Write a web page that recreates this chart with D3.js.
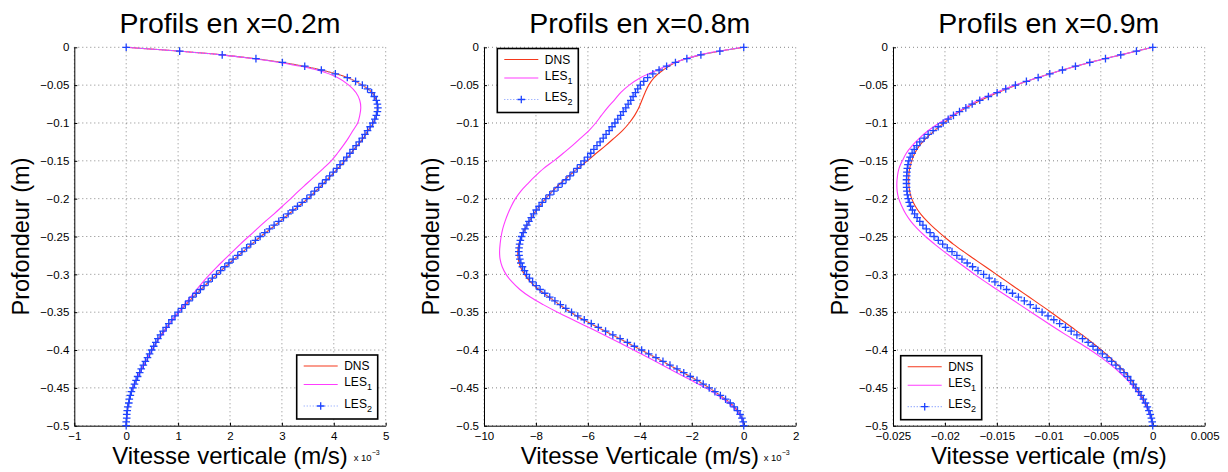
<!DOCTYPE html>
<html>
<head>
<meta charset="utf-8">
<script src="https://cdn.jsdelivr.net/npm/d3@7"></script>
<style>
  body { margin: 0; background: #fff; }
  svg { display: block; }
  text { font-family: "Liberation Sans", Arial, Helvetica, sans-serif; fill: #000; }
</style>
</head>
<body>
<svg id="chart" width="1228" height="472"></svg>
<script>
// Depth sampling: lines every 1 cm, LES2 markers every 5 mm (0 to -0.5 m)
const depthLine = d3.range(0, 51).map(i => -i / 100);
const depthMarker = d3.range(0, 101).map(i => -i / 200);

// Vertical velocity profiles, x = 0.2 m (units of 1e-3 m/s)
const dns02 = [0,1.85,3.01,3.76,4.26,4.55,4.74,4.82,4.84,4.82,4.76,4.66,4.57,4.45,4.33,4.21,4.08,3.94,3.80,3.65,3.50,3.32,3.14,2.96,2.78,2.59,2.42,2.25,2.08,1.91,1.75,1.59,1.44,1.29,1.15,1.01,0.89,0.78,0.67,0.58,0.50,0.42,0.34,0.26,0.19,0.13,0.08,0.05,0.02,0.01,0];
const les1_02 = [0,1.83,2.95,3.68,4.07,4.29,4.43,4.50,4.52,4.50,4.46,4.37,4.28,4.18,4.07,3.95,3.80,3.64,3.48,3.32,3.17,3.01,2.85,2.68,2.52,2.36,2.20,2.05,1.90,1.75,1.61,1.48,1.36,1.24,1.12,1.01,0.89,0.79,0.69,0.58,0.50,0.42,0.34,0.26,0.19,0.13,0.08,0.05,0.02,0.01,0];
const les2_02 = [0,1.03,1.85,2.50,3.01,3.44,3.76,4.03,4.26,4.42,
  4.55,4.65,4.73,4.78,4.82,4.84,4.85,4.84,4.82,4.79,
  4.75,4.70,4.65,4.60,4.55,4.49,4.43,4.37,4.31,4.25,
  4.19,4.12,4.06,3.99,3.92,3.85,3.78,3.71,3.63,3.56,
  3.48,3.39,3.30,3.21,3.12,3.03,2.94,2.85,2.76,2.67,
  2.58,2.49,2.40,2.32,2.23,2.15,2.06,1.98,1.90,1.82,
  1.74,1.66,1.58,1.50,1.43,1.35,1.28,1.21,1.14,1.07,
  1.00,0.94,0.88,0.82,0.77,0.71,0.66,0.61,0.57,0.53,
  0.49,0.45,0.41,0.37,0.33,0.29,0.26,0.22,0.19,0.16,
  0.13,0.10,0.08,0.06,0.05,0.03,0.02,0.01,0.01,0.00,0];

// x = 0.8 m (units of 1e-3 m/s)
const dns08 = [0,-1.65,-2.63,-3.10,-3.45,-3.66,-3.80,-3.92,-4.04,-4.20,-4.41,-4.67,-4.99,-5.32,-5.68,-6.02,-6.39,-6.73,-7.06,-7.36,-7.63,-7.87,-8.08,-8.26,-8.42,-8.56,-8.66,-8.70,-8.68,-8.60,-8.44,-8.21,-7.89,-7.50,-7.10,-6.67,-6.17,-5.62,-5.06,-4.50,-3.95,-3.40,-2.85,-2.32,-1.80,-1.33,-0.90,-0.52,-0.24,-0.07,0];
const les1_08 = [0,-1.70,-2.65,-3.32,-3.96,-4.41,-4.74,-4.99,-5.25,-5.48,-5.70,-5.96,-6.28,-6.60,-6.95,-7.31,-7.70,-8.02,-8.31,-8.58,-8.79,-8.95,-9.08,-9.19,-9.28,-9.34,-9.38,-9.40,-9.38,-9.30,-9.15,-8.92,-8.62,-8.22,-7.72,-7.17,-6.58,-5.98,-5.38,-4.80,-4.24,-3.68,-3.12,-2.58,-2.02,-1.47,-0.99,-0.58,-0.28,-0.08,0];
const les2_08 = [0,-0.92,-1.65,-2.19,-2.63,-2.97,-3.26,-3.50,-3.70,-3.85,
  -3.98,-4.08,-4.17,-4.26,-4.35,-4.45,-4.54,-4.64,-4.74,-4.85,
  -4.96,-5.07,-5.18,-5.30,-5.41,-5.53,-5.65,-5.77,-5.89,-6.01,
  -6.14,-6.27,-6.41,-6.55,-6.69,-6.84,-6.99,-7.15,-7.31,-7.47,
  -7.62,-7.76,-7.88,-7.99,-8.09,-8.18,-8.27,-8.35,-8.42,-8.49,
  -8.55,-8.60,-8.63,-8.65,-8.66,-8.65,-8.62,-8.58,-8.52,-8.44,
  -8.36,-8.25,-8.13,-7.99,-7.84,-7.66,-7.47,-7.27,-7.06,-6.85,
  -6.63,-6.39,-6.14,-5.87,-5.60,-5.32,-5.04,-4.76,-4.48,-4.21,
  -3.93,-3.66,-3.38,-3.11,-2.84,-2.57,-2.31,-2.06,-1.80,-1.56,
  -1.33,-1.11,-0.90,-0.70,-0.52,-0.37,-0.24,-0.14,-0.07,-0.02,0];

// x = 0.9 m (units of 1e-3 m/s)
const dns09 = [0,-3.08,-6.06,-8.69,-11.03,-13.15,-14.95,-16.55,-17.95,-19.15,-20.10,-21.00,-21.80,-22.45,-22.90,-23.20,-23.40,-23.48,-23.48,-23.40,-23.20,-22.85,-22.35,-21.70,-20.95,-20.10,-19.20,-18.20,-17.15,-16.10,-15.05,-14.00,-12.95,-11.90,-10.85,-9.80,-8.80,-7.80,-6.80,-5.85,-4.95,-4.10,-3.35,-2.65,-2.05,-1.55,-1.10,-0.70,-0.38,-0.12,0];
const les1_09 = [0,-3.08,-6.06,-8.69,-11.03,-13.25,-15.10,-16.80,-18.10,-19.30,-20.55,-21.60,-22.45,-23.15,-23.72,-24.10,-24.42,-24.57,-24.63,-24.60,-24.45,-24.15,-23.78,-23.28,-22.64,-21.87,-21.00,-20.08,-19.12,-18.14,-17.14,-16.10,-15.00,-13.90,-12.80,-11.70,-10.60,-9.50,-8.35,-7.15,-6.00,-4.95,-4.00,-3.15,-2.40,-1.78,-1.25,-0.80,-0.45,-0.17,0];
const les2_09 = [0,-1.57,-3.08,-4.55,-6.06,-7.44,-8.69,-9.91,-11.03,-12.16,
  -13.22,-14.15,-14.98,-15.82,-16.65,-17.38,-17.99,-18.60,-19.18,-19.69,
  -20.17,-20.65,-21.14,-21.62,-22.00,-22.42,-22.71,-22.96,-23.16,-23.35,
  -23.48,-23.56,-23.62,-23.66,-23.68,-23.70,-23.70,-23.69,-23.66,-23.61,
  -23.54,-23.44,-23.31,-23.13,-22.92,-22.68,-22.42,-22.12,-21.79,-21.43,
  -21.05,-20.64,-20.22,-19.78,-19.32,-18.85,-18.36,-17.86,-17.34,-16.82,
  -16.28,-15.74,-15.19,-14.63,-14.07,-13.50,-12.93,-12.36,-11.79,-11.22,
  -10.65,-10.08,-9.52,-8.96,-8.40,-7.85,-7.30,-6.76,-6.22,-5.75,
  -5.30,-4.85,-4.40,-3.96,-3.55,-3.15,-2.77,-2.42,-2.12,-1.86,
  -1.62,-1.35,-1.12,-0.90,-0.70,-0.52,-0.37,-0.24,-0.13,-0.05,0];

// Axis ticks and labels
const yTicks = [0,-0.05,-0.1,-0.15,-0.2,-0.25,-0.3,-0.35,-0.4,-0.45,-0.5];
const yTickLabels = ["0","\u22120.05","\u22120.1","\u22120.15","\u22120.2","\u22120.25","\u22120.3","\u22120.35","\u22120.4","\u22120.45","\u22120.5"];
const xTicks02 = [-1,0,1,2,3,4,5];
const xTickLabels02 = ["\u22121","0","1","2","3","4","5"];
const xTicks08 = [-10,-8,-6,-4,-2,0,2];
const xTickLabels08 = ["\u221210","\u22128","\u22126","\u22124","\u22122","0","2"];
const xTicks09 = [-0.025,-0.02,-0.015,-0.01,-0.005,0,0.005];
const xTickLabels09 = ["\u22120.025","\u22120.02","\u22120.015","\u22120.01","\u22120.005","0","0.005"];

const seriesNames = ["DNS", "LES", "LES"];
const seriesSubs = ["", "1", "2"];

const COL_DNS = "#f5381c";
const COL_LES1 = "#ff3cff";
const COL_LES2 = "#1e44ff";
const COL_LES2_LINE = "#7d98ff";

const TOP = 47.3, BOTTOM = 425.7;
const svg = d3.select("#chart");

const milli = v => v / 1000;

const panels = [
  { left: 74.3, right: 385.7, xDomain: [-1, 5], xTicks: xTicks02, xLabels: xTickLabels02,
    dns: dns02, les1: les1_02, les2: les2_02, scale: v => v,
    title: "Profils en x=0.2m", xTitle: "Vitesse verticale (m/s)", exponent: true,
    legend: { x: 296.7, y: 355 } },
  { left: 484, right: 795.7, xDomain: [-10, 2], xTicks: xTicks08, xLabels: xTickLabels08,
    dns: dns08, les1: les1_08, les2: les2_08, scale: v => v,
    title: "Profils en x=0.8m", xTitle: "Vitesse Verticale (m/s)", exponent: true,
    legend: { x: 497.3, y: 48.5 } },
  { left: 893, right: 1204.7, xDomain: [-0.025, 0.005], xTicks: xTicks09, xLabels: xTickLabels09,
    dns: dns09, les1: les1_09, les2: les2_09, scale: milli,
    title: "Profils en x=0.9m", xTitle: "Vitesse verticale (m/s)", exponent: false,
    legend: { x: 900.7, y: 355.7 } }
];

function drawPanel(p) {
  const g = svg.append("g");
  const x = d3.scaleLinear().domain(p.xDomain).range([p.left, p.right]);
  const y = d3.scaleLinear().domain([-0.5, 0]).range([BOTTOM, TOP]);

  // dotted grid
  const grid = g.append("g").attr("stroke", "#000").attr("stroke-width", 0.8)
    .attr("stroke-dasharray", "1,3").attr("stroke-opacity", 0.6);
  grid.selectAll("line.v").data(p.xTicks).join("line").attr("class", "v")
    .attr("x1", d => x(d)).attr("x2", d => x(d)).attr("y1", TOP).attr("y2", BOTTOM);
  grid.selectAll("line.h").data(yTicks).join("line").attr("class", "h")
    .attr("x1", p.left).attr("x2", p.right).attr("y1", d => y(d)).attr("y2", d => y(d));

  // axes
  const xAxis = d3.axisBottom(x).tickValues(p.xTicks).tickFormat((d, i) => p.xLabels[i])
    .tickSizeInner(-3).tickSizeOuter(0).tickPadding(6.5);
  const yAxis = d3.axisLeft(y).tickValues(yTicks).tickFormat((d, i) => yTickLabels[i])
    .tickSizeInner(-3).tickSizeOuter(0).tickPadding(5);
  const gx = g.append("g").attr("transform", `translate(0,${BOTTOM})`).call(xAxis);
  const gy = g.append("g").attr("transform", `translate(${p.left},0)`).call(yAxis);
  [gx, gy].forEach(a => {
    a.attr("font-family", null).attr("font-size", null);
    a.selectAll("text").style("font-size", "11.5px");
    a.selectAll("path, line").attr("stroke", "#000").attr("stroke-width", 1);
  });

  const line = d3.line().x(d => x(d[0])).y(d => y(d[1])).curve(d3.curveCatmullRom);

  const dnsPts = p.dns.map((v, i) => [p.scale(v), depthLine[i]]);
  const les1Pts = p.les1.map((v, i) => [p.scale(v), depthLine[i]]);
  const les2Pts = p.les2.map((v, i) => [p.scale(v), depthMarker[i]]);

  g.append("path").attr("d", line(dnsPts)).attr("fill", "none")
    .attr("stroke", COL_DNS).attr("stroke-width", 1.1);
  g.append("path").attr("d", line(les1Pts)).attr("fill", "none")
    .attr("stroke", COL_LES1).attr("stroke-width", 1.1);
  g.append("path").attr("d", d3.line().x(d => x(d[0])).y(d => y(d[1]))(les2Pts)).attr("fill", "none")
    .attr("stroke", COL_LES2_LINE).attr("stroke-width", 1.2).attr("stroke-dasharray", "1,2");
  const s = 3.8;
  g.append("g").selectAll("path").data(les2Pts).join("path")
    .attr("d", d => `M${x(d[0]) - s},${y(d[1])}H${x(d[0]) + s}M${x(d[0])},${y(d[1]) - s}V${y(d[1]) + s}`)
    .attr("stroke", COL_LES2).attr("stroke-width", 1.3).attr("fill", "none");

  // titles
  const cx = (p.left + p.right) / 2;
  g.append("text").attr("x", cx).attr("y", 33).attr("text-anchor", "middle")
    .style("font-size", "28.5px").text(p.title);
  g.append("text").attr("x", cx).attr("y", 463.5).attr("text-anchor", "middle")
    .style("font-size", "24px").text(p.xTitle);
  g.append("text").attr("transform", `translate(${p.left - 45},${(TOP + BOTTOM) / 2}) rotate(-90)`)
    .attr("text-anchor", "middle").style("font-size", "23.5px").text("Profondeur (m)");
  if (p.exponent) {
    const t = g.append("text").attr("x", p.right - 32).attr("y", 460.5).style("font-size", "9.5px");
    t.append("tspan").text("x 10");
    t.append("tspan").attr("dy", -6).style("font-size", "7px").text("\u22123");
  }

  // legend
  const L = p.legend;
  const lg = g.append("g").attr("transform", `translate(${L.x},${L.y})`);
  lg.append("rect").attr("width", 81).attr("height", 64).attr("fill", "#fff")
    .attr("stroke", "#000").attr("stroke-width", 1.6);
  const rows = [11, 29.5, 51];
  const colors = [COL_DNS, COL_LES1, COL_LES2_LINE];
  rows.forEach((ry, i) => {
    const ln = lg.append("line").attr("x1", 7).attr("x2", 41).attr("y1", ry).attr("y2", ry)
      .attr("stroke", colors[i]).attr("stroke-width", i === 2 ? 1.2 : 1.1);
    if (i === 2) {
      ln.attr("stroke-dasharray", "1,2");
      lg.append("path").attr("d", `M${24 - s},${ry}H${24 + s}M24,${ry - s}V${ry + s}`)
        .attr("stroke", COL_LES2).attr("stroke-width", 1.3);
    }
    const t = lg.append("text").attr("x", 47.5).attr("y", i === 0 ? ry + 4.3 : ry + 1.5)
      .style("font-size", "12px");
    t.append("tspan").text(seriesNames[i]);
    if (seriesSubs[i]) t.append("tspan").attr("dy", 4).style("font-size", "9px").text(seriesSubs[i]);
  });
}

panels.forEach(drawPanel);
</script>
</body>
</html>
